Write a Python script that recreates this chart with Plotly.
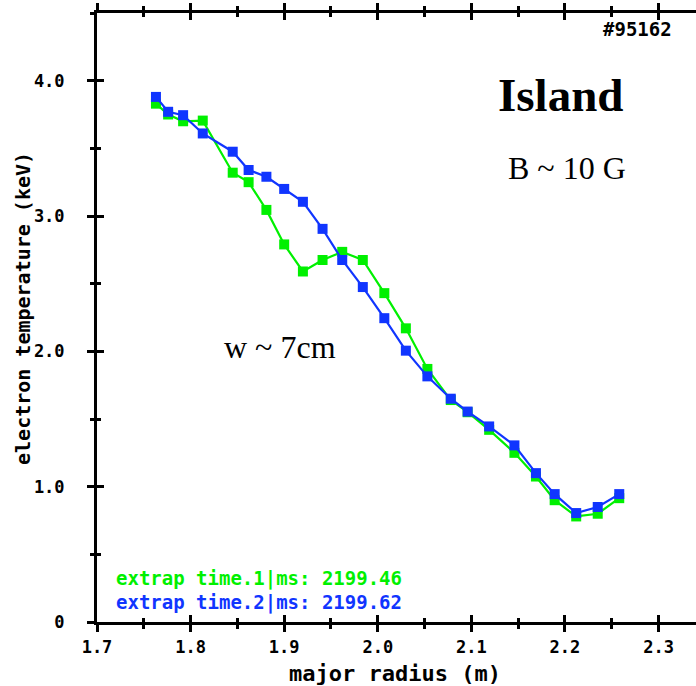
import plotly.graph_objects as go

# ---- data ----
radius = [1.763, 1.776, 1.792, 1.813, 1.845, 1.862, 1.881, 1.900, 1.920, 1.941, 1.962, 1.984,
          2.007, 2.030, 2.053, 2.078, 2.096, 2.119, 2.146, 2.169, 2.189, 2.212, 2.235, 2.258]
te_time1 = [3.83, 3.75, 3.70, 3.705, 3.32, 3.25, 3.045, 2.79, 2.59, 2.675, 2.735, 2.675,
            2.43, 2.17, 1.87, 1.64, 1.55, 1.42, 1.25, 1.075, 0.90, 0.78, 0.80, 0.915]
te_time2 = [3.88, 3.77, 3.745, 3.61, 3.475, 3.34, 3.29, 3.20, 3.105, 2.905, 2.675, 2.475,
            2.245, 2.005, 1.815, 1.65, 1.555, 1.445, 1.305, 1.10, 0.945, 0.805, 0.85, 0.945]

x_ticks = [1.7, 1.8, 1.9, 2.0, 2.1, 2.2, 2.3]
x_ticktext = ["1.7", "1.8", "1.9", "2.0", "2.1", "2.2", "2.3"]
y_ticks = [0, 1, 2, 3, 4]
y_ticktext = ["0", "1.0", "2.0", "3.0", "4.0"]

label1 = "extrap time.1|ms: 2199.46"
label2 = "extrap time.2|ms: 2199.62"

GREEN = "#00f000"
BLUE = "#1035ff"
X_RANGE = [1.7, 2.340]
Y_RANGE = [0, 4.5]

fig = go.Figure()
fig.add_trace(go.Scatter(x=radius, y=te_time1, mode="lines+markers",
                         line=dict(color=GREEN, width=2.2),
                         marker=dict(symbol="square", size=10, color=GREEN),
                         showlegend=False))
fig.add_trace(go.Scatter(x=radius, y=te_time2, mode="lines+markers",
                         line=dict(color=BLUE, width=2.2),
                         marker=dict(symbol="square", size=10, color=BLUE),
                         showlegend=False))
# dummy trace for overlay axes (inside ticks -> crossing ticks)
fig.add_trace(go.Scatter(x=[None], y=[None], xaxis="x2", yaxis="y2", showlegend=False))

tickfont = dict(family="DejaVu Sans Mono", size=17, color="black", weight="bold")

fig.update_layout(
    width=696, height=686,
    margin=dict(l=97, r=0, t=13, b=64),
    paper_bgcolor="white", plot_bgcolor="white",
    xaxis=dict(range=X_RANGE, tickvals=x_ticks, ticktext=x_ticktext,
               showline=True, linecolor="black", linewidth=3, mirror="ticks",
               ticks="outside", ticklen=7, tickwidth=3, tickcolor="black",
               minor=dict(dtick=0.05, tick0=1.7, ticks="outside", ticklen=4,
                          tickwidth=2.5, tickcolor="black"),
               showgrid=False, zeroline=False, tickfont=tickfont,
               ticklabelstandoff=1),
    yaxis=dict(range=Y_RANGE, tickvals=y_ticks, ticktext=y_ticktext,
               showline=True, linecolor="black", linewidth=3,
               ticks="outside", ticklen=7, tickwidth=3, tickcolor="black",
               minor=dict(dtick=0.5, tick0=0, ticks="outside", ticklen=4,
                          tickwidth=2.5, tickcolor="black"),
               showgrid=False, zeroline=False, tickfont=tickfont,
               ticklabelstandoff=19),
    xaxis2=dict(range=X_RANGE, overlaying="x", side="bottom", anchor="y2",
                tickvals=x_ticks, showticklabels=False,
                showline=False, mirror="ticks",
                ticks="inside", ticklen=7, tickwidth=3, tickcolor="black",
                minor=dict(dtick=0.05, tick0=1.7, ticks="inside", ticklen=4,
                           tickwidth=2.5, tickcolor="black"),
                showgrid=False, zeroline=False),
    yaxis2=dict(range=Y_RANGE, overlaying="y", side="left", anchor="x2",
                tickvals=y_ticks, showticklabels=False, showline=False,
                ticks="inside", ticklen=7, tickwidth=3, tickcolor="black",
                minor=dict(dtick=0.5, tick0=0, ticks="inside", ticklen=4,
                           tickwidth=2.5, tickcolor="black"),
                showgrid=False, zeroline=False),
)

mono = "DejaVu Sans Mono"
ann = [
    dict(text="electron temperature (keV)", x=-0.1235, y=0.514, textangle=-90,
         font=dict(family=mono, size=20, color="black", weight="bold")),
    dict(text="major radius (m)", x=0.4975, y=-0.084,
         font=dict(family=mono, size=22, color="black", weight="bold")),
    dict(text="Island", x=0.773, y=0.866,
         font=dict(family="Liberation Serif", size=47, color="black", weight="bold")),
    dict(text="B ~ 10 G", x=0.785, y=0.745,
         font=dict(family="Liberation Serif", size=32, color="black")),
    dict(text="w ~ 7cm", x=0.3055, y=0.452,
         font=dict(family="Liberation Serif", size=32, color="black")),
    dict(text="#95162", x=0.903, y=0.973,
         font=dict(family=mono, size=19, color="black", weight="bold")),
    dict(text=label1, x=0.0284, y=0.0722, xanchor="left",
         font=dict(family=mono, size=19, color=GREEN, weight="bold")),
    dict(text=label2, x=0.0284, y=0.0328, xanchor="left",
         font=dict(family=mono, size=19, color=BLUE, weight="bold")),
]
for a in ann:
    a.setdefault("xanchor", "center")
    fig.add_annotation(xref="paper", yref="paper", showarrow=False, yanchor="middle", **a)

fig.write_html("out.html")
